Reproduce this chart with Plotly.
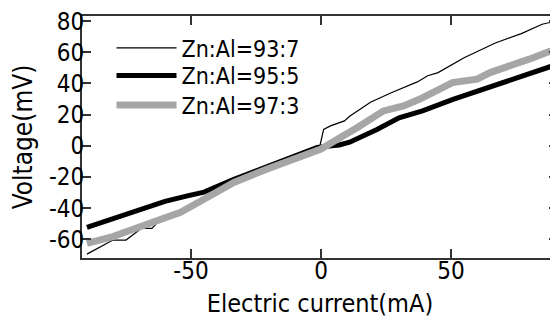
import plotly.graph_objects as go

# Zn:Al = 93:7 (thin black)
x_937 = [-90, -80, -75, -69, -65, -60.5, -55, -51, -46, -40, -30, -20, -10, -1, -0.3, 1, 3.6, 9, 11, 19, 27, 33, 37, 41, 45, 55, 67, 77, 85, 89, 91]
y_937 = [-69.5, -60.5, -60.5, -53, -53, -45, -45, -39.5, -36.3, -30.5, -22, -15, -9.5, -2.5, 1, 10.5, 12.8, 16, 19, 28, 34, 38.5, 41, 45, 47, 56.5, 66, 72, 78, 79.5, 80]

# Zn:Al = 95:5 (thick black)
x_955 = [-90, -80, -70, -60, -51, -45, -33.5, -26, -16, -9, -1.5, 7, 11, 21.5, 30, 39, 51, 91]
y_955 = [-52.4, -47, -41.7, -35.7, -32, -29.7, -21.5, -16.5, -10, -5.3, -1, 0.5, 2.3, 10.5, 18, 22.4, 29.9, 52.4]

# Zn:Al = 97:3 (thick grey)
x_973 = [-90, -80, -72, -63, -54, -44, -33.5, -20.7, -8, 0, 4, 10, 14, 24, 31.7, 38, 44.5, 50.5, 60, 65, 80, 91]
y_973 = [-62.6, -58.3, -53.4, -48.1, -42.7, -33.3, -23.5, -14.9, -7.5, -2.1, 2, 7.5, 11.7, 22.4, 25.6, 30, 35, 40.6, 42.8, 47, 55.6, 62.5]

x_ticks = [-50, 0, 50]
x_tick_text = ["-50", "0", "50"]
y_ticks = [-60, -40, -20, 0, 20, 40, 60, 80]
y_tick_text = ["-60", "-40", "-20", "0", "20", "40", "60", "80"]

FONT = "DejaVu Sans Condensed"
AXC = "#333333"

fig = go.Figure()
fig.add_trace(go.Scatter(x=x_937, y=y_937, mode="lines", name="Zn:Al=93:7", legend="legend",
                         line=dict(color="black", width=1.2)))
fig.add_trace(go.Scatter(x=x_955, y=y_955, mode="lines", name="Zn:Al=95:5", legend="legend2",
                         line=dict(color="black", width=5)))
fig.add_trace(go.Scatter(x=x_973, y=y_973, mode="lines", name="Zn:Al=97:3", legend="legend3",
                         line=dict(color="#a6a6a6", width=7)))
fig.add_trace(go.Scatter(x=[None], y=[None], yaxis="y2", showlegend=False, hoverinfo="skip"))

yr = [-72.0, 83.3]
leg = dict(x=0.062, xanchor="left", yanchor="middle", bgcolor="rgba(0,0,0,0)",
           font=dict(size=23), itemwidth=60)
fig.update_layout(
    width=558, height=320,
    margin=dict(l=74, r=8, t=8, b=70),
    paper_bgcolor="white", plot_bgcolor="white",
    font=dict(family=FONT, size=24, color="black"),
    xaxis=dict(range=[-91.9, 91.1], tickvals=x_ticks, ticktext=x_tick_text, ticks="inside",
               ticklen=9, tickwidth=1.5, automargin=False, ticklabelstandoff=-10,
               ticklabeloverflow="allow",
               tickcolor=AXC, showline=True, linecolor=AXC, linewidth=1.8, mirror="ticks",
               showgrid=False, zeroline=False,
               title=dict(text="Electric current(mA)", font=dict(size=25), standoff=11)),
    yaxis=dict(range=yr, tickvals=y_ticks, ticktext=y_tick_text, ticks="inside", ticklen=9,
               tickwidth=1.5, automargin=False, ticklabelstandoff=-9,
               ticklabeloverflow="allow",
               tickcolor=AXC, showline=True, linecolor=AXC, linewidth=1.8,
               showgrid=False, zeroline=False,
               title=dict(text="Voltage(mV)", font=dict(size=26), standoff=11)),
    yaxis2=dict(range=yr, tickvals=y_ticks, overlaying="y", side="right", ticks="inside",
                ticklen=9, tickwidth=1.5, tickcolor=AXC, showticklabels=False, automargin=False,
                showline=False, showgrid=False, zeroline=False),
    legend=dict(leg, y=0.868),
    legend2=dict(leg, y=0.754),
    legend3=dict(leg, y=0.632),
    showlegend=True,
)
fig.write_html("out.html")
